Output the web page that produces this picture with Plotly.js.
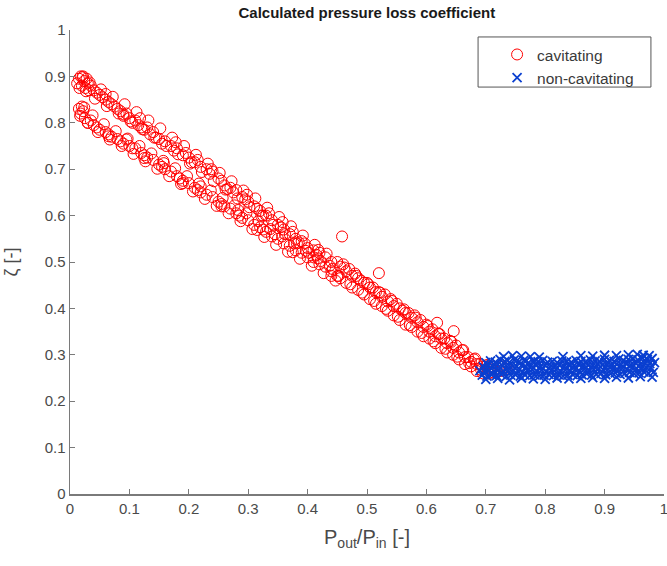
<!DOCTYPE html>
<html>
<head>
<meta charset="utf-8">
<script src="https://cdn.plot.ly/plotly-3.0.1.min.js"></script>
<style>html,body{margin:0;padding:0;background:#fff;}#chart{width:667px;height:566px;}</style>
</head>
<body>
<div id="chart"></div>
<script>
// Cavitating (red circles)
const cavUpperX = [0.012,0.015,0.018,0.02,0.022,0.024,0.026,0.028,0.03,0.032,0.035,0.04,0.045,0.05,0.055,0.06,0.065,0.07,0.075,0.08,0.085,0.09,0.095,0.1,0.105,0.11,0.115,0.12,0.125,0.13,0.135,0.14,0.15,0.155,0.16,0.17,0.175,0.18,0.19,0.195,0.2,0.21,0.215,0.22,0.23,0.235,0.24,0.25,0.255,0.26,0.27,0.275,0.28,0.29,0.295,0.3,0.31,0.315,0.32,0.33,0.335,0.34,0.35,0.355,0.36,0.37,0.375,0.38,0.39,0.395,0.4,0.41,0.415,0.42,0.43,0.44];
const cavUpperY = [0.885,0.895,0.9,0.88,0.9,0.89,0.875,0.895,0.885,0.87,0.88,0.87,0.865,0.86,0.855,0.85,0.845,0.84,0.835,0.83,0.825,0.815,0.82,0.81,0.8,0.805,0.795,0.79,0.785,0.79,0.775,0.78,0.765,0.755,0.76,0.75,0.74,0.745,0.73,0.735,0.725,0.715,0.72,0.705,0.7,0.69,0.695,0.68,0.675,0.665,0.66,0.65,0.655,0.64,0.635,0.63,0.62,0.615,0.61,0.6,0.605,0.59,0.58,0.575,0.57,0.56,0.565,0.55,0.545,0.54,0.53,0.525,0.515,0.52,0.51,0.5];
const cavUpper2X = [0.016,0.021,0.027,0.033,0.042,0.052,0.062,0.072,0.082,0.092,0.102,0.112,0.122,0.132,0.142,0.152,0.162,0.172,0.182,0.192,0.202,0.212,0.222,0.232,0.242,0.252,0.262,0.272,0.282,0.292,0.302,0.312,0.322,0.332,0.342,0.352,0.362,0.372,0.382,0.392,0.402,0.412,0.422,0.432,0.442];
const cavUpper2Y = [0.875,0.898,0.868,0.887,0.852,0.872,0.836,0.856,0.82,0.84,0.803,0.823,0.786,0.805,0.768,0.788,0.75,0.768,0.732,0.75,0.712,0.731,0.694,0.712,0.674,0.692,0.656,0.674,0.637,0.654,0.618,0.637,0.6,0.617,0.58,0.597,0.56,0.577,0.54,0.557,0.52,0.537,0.502,0.518,0.485];
const cavUpper3X = [0.06,0.09,0.118,0.145,0.178,0.205,0.238,0.265,0.298,0.325,0.358,0.385,0.418];
const cavUpper3Y = [0.862,0.818,0.81,0.768,0.758,0.715,0.7,0.657,0.645,0.6,0.586,0.542,0.526];
const cavLowerX = [0.015,0.018,0.02,0.022,0.025,0.03,0.035,0.04,0.045,0.05,0.06,0.065,0.07,0.08,0.085,0.09,0.1,0.105,0.11,0.12,0.125,0.13,0.14,0.15,0.155,0.16,0.17,0.18,0.185,0.19,0.2,0.21,0.215,0.22,0.23,0.24,0.25,0.255,0.26,0.27,0.28,0.285,0.29,0.3,0.31,0.32,0.325,0.33,0.34,0.35,0.36,0.37,0.38,0.39,0.4,0.41,0.42,0.43,0.44,0.45];
const cavLowerY = [0.83,0.82,0.835,0.825,0.81,0.8,0.805,0.795,0.79,0.785,0.78,0.775,0.77,0.765,0.76,0.755,0.75,0.745,0.745,0.735,0.73,0.725,0.72,0.71,0.705,0.7,0.695,0.685,0.68,0.675,0.67,0.66,0.655,0.65,0.645,0.64,0.63,0.625,0.62,0.615,0.605,0.6,0.595,0.59,0.58,0.575,0.57,0.565,0.555,0.55,0.54,0.535,0.525,0.52,0.51,0.5,0.495,0.49,0.48,0.47];
const cavLower2X = [0.017,0.024,0.03,0.038,0.047,0.057,0.067,0.077,0.087,0.097,0.107,0.117,0.127,0.137,0.147,0.157,0.167,0.177,0.187,0.197,0.207,0.217,0.227,0.237,0.247,0.257,0.267,0.277,0.287,0.297,0.307,0.317,0.327,0.337,0.347,0.357,0.367,0.377,0.387,0.397,0.407,0.417,0.427,0.437,0.447];
const cavLower2Y = [0.815,0.833,0.8,0.816,0.78,0.797,0.764,0.782,0.75,0.766,0.733,0.75,0.717,0.734,0.701,0.718,0.685,0.702,0.668,0.685,0.652,0.669,0.636,0.654,0.621,0.638,0.605,0.622,0.588,0.605,0.571,0.588,0.554,0.571,0.537,0.555,0.522,0.54,0.507,0.524,0.492,0.508,0.476,0.492,0.46];
const cavLower3X = [0.065,0.095,0.125,0.158,0.19,0.22,0.255,0.283,0.315,0.345,0.375,0.41,0.44];
const cavLower3Y = [0.771,0.764,0.724,0.713,0.67,0.663,0.62,0.612,0.569,0.56,0.521,0.51,0.47];
const cavMergedAX = [0.45,0.455,0.46,0.465,0.47,0.475,0.48,0.485,0.49,0.495,0.5,0.505,0.51,0.515,0.52,0.525,0.53,0.535,0.54,0.545,0.55,0.555,0.56,0.565,0.57,0.575,0.58,0.585,0.59,0.595,0.6,0.605,0.61,0.615,0.62,0.625,0.63,0.635,0.64,0.645,0.65,0.655,0.66,0.665,0.67,0.675,0.68,0.685,0.69,0.695,0.7,0.705,0.71,0.715,0.72,0.725];
const cavMergedAY = [0.5,0.49,0.495,0.48,0.485,0.47,0.475,0.465,0.46,0.455,0.455,0.445,0.445,0.435,0.435,0.425,0.43,0.415,0.42,0.405,0.41,0.4,0.395,0.39,0.39,0.38,0.385,0.37,0.375,0.36,0.365,0.35,0.355,0.34,0.345,0.335,0.335,0.325,0.33,0.315,0.32,0.305,0.31,0.295,0.295,0.285,0.29,0.28,0.28,0.275,0.275,0.27,0.275,0.265,0.27,0.265];
const cavMergedBX = [0.455,0.465,0.475,0.485,0.495,0.505,0.515,0.525,0.535,0.545,0.555,0.565,0.575,0.585,0.595,0.605,0.615,0.625,0.635,0.645,0.655,0.665,0.675,0.685,0.695,0.705];
const cavMergedBY = [0.465,0.455,0.445,0.44,0.43,0.42,0.41,0.405,0.395,0.385,0.375,0.365,0.36,0.35,0.34,0.335,0.325,0.315,0.305,0.3,0.29,0.28,0.275,0.265,0.26,0.26];
const cavMergedCX = [0.452,0.462,0.472,0.482,0.492,0.502,0.512,0.522,0.532,0.542,0.552,0.562,0.572,0.582,0.592,0.602,0.612,0.622,0.632,0.642,0.652,0.662,0.672,0.682,0.692,0.702,0.712];
const cavMergedCY = [0.47,0.488,0.452,0.47,0.434,0.452,0.416,0.434,0.399,0.416,0.382,0.398,0.364,0.38,0.347,0.362,0.329,0.345,0.313,0.328,0.296,0.31,0.282,0.292,0.268,0.278,0.262];
const cavOutX = [0.458,0.52,0.618,0.646,0.735,0.725];
const cavOutY = [0.555,0.476,0.369,0.351,0.27,0.275];

// Non-cavitating (blue crosses)
const ncR1X = [0.70,0.708,0.716,0.724,0.732,0.74,0.748,0.756,0.764,0.772,0.78,0.788,0.796,0.804,0.812,0.82,0.828,0.836,0.844,0.852,0.86,0.868,0.876,0.884,0.892,0.90,0.908,0.916,0.924,0.932,0.94,0.948,0.956,0.964,0.972,0.98];
const ncR1Y = [0.283,0.287,0.284,0.29,0.286,0.284,0.289,0.285,0.288,0.283,0.286,0.285,0.288,0.284,0.286,0.283,0.287,0.285,0.284,0.288,0.286,0.285,0.289,0.287,0.285,0.29,0.288,0.286,0.291,0.288,0.29,0.292,0.289,0.293,0.29,0.292];
const ncR2X = [0.696,0.704,0.712,0.72,0.728,0.736,0.744,0.752,0.76,0.768,0.776,0.784,0.792,0.80,0.808,0.816,0.824,0.832,0.84,0.848,0.856,0.864,0.872,0.88,0.888,0.896,0.904,0.912,0.92,0.928,0.936,0.944,0.952,0.96,0.968,0.976,0.984];
const ncR2Y = [0.274,0.277,0.275,0.279,0.276,0.274,0.278,0.275,0.277,0.274,0.276,0.278,0.275,0.277,0.274,0.276,0.278,0.275,0.277,0.276,0.279,0.276,0.278,0.277,0.28,0.278,0.279,0.277,0.28,0.279,0.281,0.279,0.282,0.28,0.282,0.281,0.283];
const ncR3X = [0.69,0.698,0.706,0.714,0.722,0.73,0.738,0.746,0.754,0.762,0.77,0.778,0.786,0.794,0.802,0.81,0.818,0.826,0.834,0.842,0.85,0.858,0.866,0.874,0.882,0.89,0.898,0.906,0.914,0.922,0.93,0.938,0.946,0.954,0.962,0.97,0.978];
const ncR3Y = [0.266,0.264,0.267,0.265,0.268,0.264,0.266,0.267,0.265,0.263,0.266,0.268,0.265,0.267,0.264,0.266,0.268,0.265,0.267,0.266,0.268,0.265,0.269,0.267,0.268,0.27,0.267,0.269,0.27,0.268,0.271,0.269,0.272,0.27,0.271,0.273,0.272];
const ncR4X = [0.694,0.702,0.71,0.718,0.726,0.734,0.742,0.75,0.758,0.766,0.774,0.782,0.79,0.798,0.806,0.814,0.822,0.83,0.838,0.846,0.854,0.862,0.87,0.878,0.886,0.894,0.902,0.91,0.918,0.926,0.934,0.942,0.95,0.958,0.966,0.974,0.982];
const ncR4Y = [0.256,0.254,0.257,0.255,0.258,0.253,0.256,0.257,0.254,0.256,0.255,0.257,0.254,0.256,0.258,0.255,0.257,0.254,0.256,0.258,0.255,0.257,0.259,0.256,0.258,0.26,0.257,0.259,0.261,0.258,0.26,0.262,0.259,0.261,0.263,0.26,0.262];
const ncR5X = [0.70,0.72,0.74,0.76,0.78,0.80,0.82,0.84,0.86,0.88,0.90,0.92,0.94,0.96,0.98];
const ncR5Y = [0.247,0.249,0.246,0.25,0.248,0.247,0.25,0.248,0.249,0.251,0.249,0.252,0.25,0.253,0.252];
const ncTopX = [0.73,0.745,0.76,0.775,0.79,0.83,0.86,0.88,0.9,0.92,0.94,0.955,0.965,0.975];
const ncTopY = [0.296,0.298,0.297,0.296,0.295,0.296,0.298,0.297,0.299,0.298,0.3,0.301,0.299,0.298];

const cavX = [].concat(cavUpperX, cavUpper2X, cavUpper3X, cavLowerX, cavLower2X, cavLower3X, cavMergedAX, cavMergedBX, cavMergedCX, cavOutX);
const cavY = [].concat(cavUpperY, cavUpper2Y, cavUpper3Y, cavLowerY, cavLower2Y, cavLower3Y, cavMergedAY, cavMergedBY, cavMergedCY, cavOutY);
const ncX = [].concat(ncR1X, ncR2X, ncR3X, ncR4X, ncR5X, ncTopX);
const ncY = [].concat(ncR1Y, ncR2Y, ncR3Y, ncR4Y, ncR5Y, ncTopY);

const tickVals = [0,0.1,0.2,0.3,0.4,0.5,0.6,0.7,0.8,0.9,1];
const tickText = ['0','0.1','0.2','0.3','0.4','0.5','0.6','0.7','0.8','0.9','1'];

const font = 'Liberation Sans, Arial, sans-serif';
const axisCommon = {
  range: [0, 1], tickvals: tickVals, ticktext: tickText,
  showline: true, linecolor: '#7a7a7a', linewidth: 1.5, mirror: false,
  ticks: 'inside', ticklen: 5, tickcolor: '#7a7a7a', tickwidth: 1,
  showgrid: false, zeroline: false, ticklabeloverflow: 'allow',
  tickfont: {family: font, size: 15, color: '#4a4a4a'}
};

const traces = [
  {x: cavX, y: cavY, type: 'scatter', mode: 'markers', name: 'cavitating',
   marker: {symbol: 'circle-open', size: 11, color: '#ff0000', line: {width: 1, color: '#ff0000'}}},
  {x: ncX, y: ncY, type: 'scatter', mode: 'markers', name: 'non-cavitating',
   marker: {symbol: 'x-thin-open', size: 9, color: '#0a3fd0', line: {width: 1.8, color: '#0a3fd0'}}}
];

const layout = {
  width: 667, height: 566,
  margin: {l: 70, r: 3, t: 30, b: 72},
  paper_bgcolor: '#ffffff', plot_bgcolor: '#ffffff',
  font: {family: font, color: '#4a4a4a'},
  title: {text: '<b>Calculated pressure loss coefficient</b>', font: {family: font, size: 15, color: '#1a1a1a'},
          x: 0.55, xanchor: 'center', y: 0.978, yanchor: 'middle', yref: 'container'},
  xaxis: Object.assign({}, axisCommon, {
    title: {text: 'P<sub>out</sub>/P<sub>in</sub> [-]', font: {family: font, size: 20, color: '#4a4a4a'}, standoff: 14}
  }),
  yaxis: Object.assign({}, axisCommon, {
    title: {text: 'ζ [-]', font: {family: font, size: 18, color: '#4a4a4a'}, standoff: 22}
  }),
  shapes: [{type: 'rect', xref: 'paper', yref: 'paper', x0: 0.687, x1: 0.978, y0: 0.877, y1: 0.985,
            line: {color: '#555555', width: 1}, fillcolor: '#ffffff', layer: 'below'}],
  showlegend: true,
  legend: {x: 0.719, y: 0.983, xanchor: 'left', yanchor: 'top',
           borderwidth: 0, bgcolor: 'rgba(0,0,0,0)',
           font: {family: font, size: 15.5, color: '#3a3a3a'}}
};

Plotly.newPlot('chart', traces, layout, {displayModeBar: false, staticPlot: true});
</script>
</body>
</html>
